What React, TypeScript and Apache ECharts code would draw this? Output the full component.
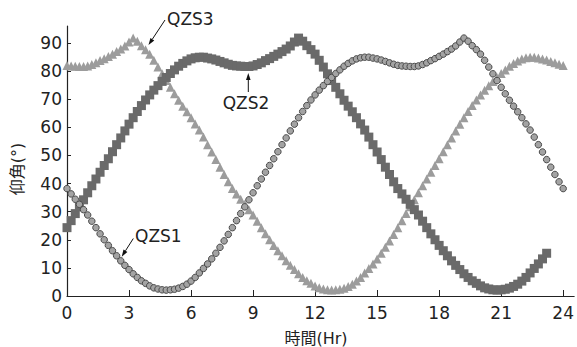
import React, { useEffect, useRef } from 'react';
import * as echarts from 'echarts';

const HOURS = [
  0, 0.2, 0.4, 0.6, 0.8, 1, 1.2, 1.4, 1.6, 1.8, 2, 2.2, 2.4, 2.6, 2.8, 3, 3.2, 3.4, 3.6, 3.8,
  4, 4.2, 4.4, 4.6, 4.8, 5, 5.2, 5.4, 5.6, 5.8, 6, 6.2, 6.4, 6.6, 6.8, 7, 7.2, 7.4, 7.6, 7.8,
  8, 8.2, 8.4, 8.6, 8.8, 9, 9.2, 9.4, 9.6, 9.8, 10, 10.2, 10.4, 10.6, 10.8, 11, 11.2, 11.4, 11.6, 11.8,
  12, 12.2, 12.4, 12.6, 12.8, 13, 13.2, 13.4, 13.6, 13.8, 14, 14.2, 14.4, 14.6, 14.8, 15, 15.2, 15.4, 15.6, 15.8,
  16, 16.2, 16.4, 16.6, 16.8, 17, 17.2, 17.4, 17.6, 17.8, 18, 18.2, 18.4, 18.6, 18.8, 19, 19.2, 19.4, 19.6, 19.8,
  20, 20.2, 20.4, 20.6, 20.8, 21, 21.2, 21.4, 21.6, 21.8, 22, 22.2, 22.4, 22.6, 22.8, 23, 23.2, 23.4, 23.6, 23.8,
  24,
];

const QZS1 = [
  38.2, 36.3, 34.4, 32.6, 30.7, 28.8, 26.6, 24.3, 22.1, 20.0,
  18.0, 16.1, 14.3, 12.5, 10.9, 9.4, 7.9, 6.6, 5.4, 4.5,
  3.6, 2.9, 2.5, 2.2, 2.1, 2.2, 2.4, 2.8, 3.4, 4.2,
  5.3, 6.6, 8.2, 9.8, 11.4, 13.2, 15.2, 17.3, 19.6, 21.9,
  24.3, 26.8, 29.3, 31.7, 34.2, 36.7, 39.2, 41.6, 44.0, 46.4,
  48.8, 51.3, 53.8, 56.2, 58.7, 61.1, 63.4, 65.6, 67.7, 69.7,
  71.5, 73.2, 74.8, 76.3, 77.7, 79.1, 80.4, 81.7, 82.7, 83.6,
  84.3, 84.7, 84.9, 84.9, 84.6, 84.3, 83.9, 83.4, 82.9, 82.4,
  82.0, 81.8, 81.7, 81.6, 81.6, 81.8, 82.3, 82.9, 83.7, 84.4,
  85.2, 86.0, 86.9, 87.8, 88.9, 90.3, 91.7, 90.6, 89.0, 87.6,
  86.0, 83.8, 81.4, 79.0, 76.6, 74.2, 71.9, 69.6, 67.5, 65.5,
  63.4, 61.2, 59.0, 56.5, 53.8, 51.2, 48.5, 45.8, 43.2, 40.6,
  38.2,
];

const QZS2 = [
  24.3, 26.8, 29.3, 31.7, 34.2, 36.7, 39.2, 41.6, 44.0, 46.4,
  48.8, 51.3, 53.8, 56.2, 58.7, 61.1, 63.4, 65.6, 67.7, 69.7,
  71.5, 73.2, 74.8, 76.3, 77.7, 79.1, 80.4, 81.7, 82.7, 83.6,
  84.3, 84.7, 84.9, 84.9, 84.6, 84.3, 83.9, 83.4, 82.9, 82.4,
  82.0, 81.8, 81.7, 81.6, 81.6, 81.8, 82.3, 82.9, 83.7, 84.4,
  85.2, 86.0, 86.9, 87.8, 88.9, 90.3, 91.7, 90.6, 89.0, 87.6,
  86.0, 83.8, 81.4, 79.0, 76.6, 74.2, 71.9, 69.6, 67.5, 65.5,
  63.4, 61.2, 59.0, 56.5, 53.8, 51.2, 48.5, 45.8, 43.2, 40.6,
  38.2, 36.3, 34.4, 32.6, 30.7, 28.8, 26.6, 24.3, 22.1, 20.0,
  18.0, 16.1, 14.3, 12.5, 10.9, 9.4, 7.9, 6.6, 5.4, 4.5,
  3.6, 2.9, 2.5, 2.2, 2.1, 2.2, 2.4, 2.8, 3.4, 4.2,
  5.3, 6.6, 8.2, 9.8, 11.4, 13.2, 15.2,
];

const QZS3 = [
  82.0, 81.8, 81.7, 81.6, 81.6, 81.8, 82.3, 82.9, 83.7, 84.4,
  85.2, 86.0, 86.9, 87.8, 88.9, 90.3, 91.7, 90.6, 89.0, 87.6,
  86.0, 83.8, 81.4, 79.0, 76.6, 74.2, 71.9, 69.6, 67.5, 65.5,
  63.4, 61.2, 59.0, 56.5, 53.8, 51.2, 48.5, 45.8, 43.2, 40.6,
  38.2, 36.3, 34.4, 32.6, 30.7, 28.8, 26.6, 24.3, 22.1, 20.0,
  18.0, 16.1, 14.3, 12.5, 10.9, 9.4, 7.9, 6.6, 5.4, 4.5,
  3.6, 2.9, 2.5, 2.2, 2.1, 2.2, 2.4, 2.8, 3.4, 4.2,
  5.3, 6.6, 8.2, 9.8, 11.4, 13.2, 15.2, 17.3, 19.6, 21.9,
  24.3, 26.8, 29.3, 31.7, 34.2, 36.7, 39.2, 41.6, 44.0, 46.4,
  48.8, 51.3, 53.8, 56.2, 58.7, 61.1, 63.4, 65.6, 67.7, 69.7,
  71.5, 73.2, 74.8, 76.3, 77.7, 79.1, 80.4, 81.7, 82.7, 83.6,
  84.3, 84.7, 84.9, 84.9, 84.6, 84.3, 83.9, 83.4, 82.9, 82.4,
  82.0,
];

const X_TICKS = [0, 3, 6, 9, 12, 15, 18, 21, 24];
const Y_TICKS = [0, 10, 20, 30, 40, 50, 60, 70, 80, 90];
const X_NAME = '時間(Hr)';
const Y_NAME = '仰角(°)';

const FONT = "'DejaVu Sans', 'Noto Sans CJK JP', sans-serif";
const TXT = '#222';

function zip(vals: number[]) {
  return vals.map((v, i) => [HOURS[i], v]);
}

function arrow(x1: number, y1: number, x2: number, y2: number) {
  const dx = x2 - x1;
  const dy = y2 - y1;
  const len = Math.sqrt(dx * dx + dy * dy);
  const ux = dx / len;
  const uy = dy / len;
  const hl = 7;
  const hw = 2.3;
  const bx = x2 - ux * hl;
  const by = y2 - uy * hl;
  const px = -uy * hw;
  const py = ux * hw;
  return [
    { type: 'line', shape: { x1, y1, x2: bx, y2: by }, style: { stroke: '#111', lineWidth: 1 } },
    {
      type: 'polygon',
      shape: { points: [[x2, y2], [bx + px, by + py], [bx - px, by - py]] },
      style: { fill: '#111' },
    },
  ];
}

export default function App() {
  const ref = useRef<HTMLDivElement>(null);
  useEffect(() => {
    const chart = echarts.init(ref.current!, null, { renderer: 'svg' });
    const labelStyle = { color: TXT, fontSize: 17, fontFamily: FONT };
    chart.setOption({
      animation: false,
      backgroundColor: '#fff',
      grid: { left: 67, right: 0, top: 26, bottom: 51, containLabel: false },
      xAxis: {
        type: 'value',
        min: 0,
        max: 24.53,
        axisLine: { show: true, lineStyle: { color: '#222', width: 1.2 } },
        axisTick: { show: true, inside: true, length: 6, customValues: X_TICKS, lineStyle: { color: '#222' } },
        axisLabel: { ...labelStyle, margin: 8, customValues: X_TICKS },
        splitLine: { show: false },
      },
      yAxis: {
        type: 'value',
        min: 0,
        max: 96,
        axisLine: { show: true, lineStyle: { color: '#222', width: 1.2 } },
        axisTick: { show: true, inside: true, length: 4, customValues: Y_TICKS, lineStyle: { color: '#222' } },
        axisLabel: { ...labelStyle, margin: 5, customValues: Y_TICKS },
        splitLine: { show: false },
      },
      series: [
        {
          name: 'QZS3',
          type: 'scatter',
          data: zip(QZS3),
          symbol: 'triangle',
          symbolSize: 9,
          itemStyle: { color: '#9c9c9c', opacity: 1 },
        },
        {
          name: 'QZS2',
          type: 'scatter',
          data: zip(QZS2),
          symbol: 'rect',
          symbolSize: 9,
          itemStyle: { color: '#6a6a6a', opacity: 1 },
        },
        {
          name: 'QZS1',
          type: 'scatter',
          data: zip(QZS1),
          symbol: 'circle',
          symbolSize: 6.5,
          itemStyle: { color: '#a3a3a3', borderColor: '#4a4a4a', borderWidth: 1, opacity: 1 },
        },
      ],
      graphic: [
        {
          type: 'text',
          x: 316,
          y: 338,
          style: { text: X_NAME, fill: TXT, fontSize: 16, fontFamily: FONT, align: 'center', verticalAlign: 'middle' },
        },
        {
          type: 'text',
          x: 17,
          y: 169,
          rotation: Math.PI / 2,
          style: { text: Y_NAME, fill: TXT, fontSize: 16, fontFamily: FONT, align: 'center', verticalAlign: 'middle' },
        },
        {
          type: 'text',
          x: 167,
          y: 19,
          style: { text: 'QZS3', fill: TXT, fontSize: 17, fontFamily: FONT, align: 'left', verticalAlign: 'middle' },
        },
        {
          type: 'text',
          x: 246,
          y: 103,
          style: { text: 'QZS2', fill: TXT, fontSize: 17, fontFamily: FONT, align: 'center', verticalAlign: 'middle' },
        },
        {
          type: 'text',
          x: 135,
          y: 236,
          style: { text: 'QZS1', fill: TXT, fontSize: 17, fontFamily: FONT, align: 'left', verticalAlign: 'middle' },
        },
        ...arrow(165, 20, 148.5, 45),
        ...arrow(248.3, 92, 248.3, 73),
        ...arrow(133.3, 238.5, 121.7, 256.7),
      ],
    });
    return () => chart.dispose();
  }, []);
  return (
    <div
      ref={ref}
      style={{ position: 'fixed', left: 0, top: 0, width: 577, height: 347, background: '#fff' }}
    />
  );
}
